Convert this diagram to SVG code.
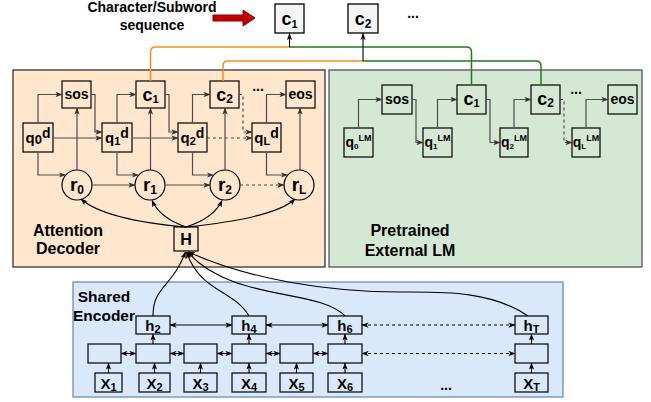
<svg xmlns="http://www.w3.org/2000/svg" width="651" height="402" viewBox="0 0 651 402">
<defs>
<marker id="a" viewBox="0 0 8 6" refX="7.5" refY="3" markerWidth="7" markerHeight="5.5" orient="auto-start-reverse" markerUnits="userSpaceOnUse"><path d="M0,0 L8,3 L0,6 L2,3 z" fill="#000"/></marker>
<marker id="ag" viewBox="0 0 8 6" refX="7.5" refY="3" markerWidth="7" markerHeight="5.5" orient="auto" markerUnits="userSpaceOnUse"><path d="M0,0 L8,3 L0,6 L2,3 z" fill="#333"/></marker>
</defs>
<style>
text{font-family:"Liberation Sans",Arial,sans-serif;font-weight:bold;fill:#000;text-anchor:middle}
.n{fill:none;stroke:#000;stroke-width:1.2}
.e{fill:#dae8fc;stroke:#000;stroke-width:1.2}
.t{fill:#f5f5f5;stroke:#000;stroke-width:1.3}
.g{fill:none;stroke:#4d4d4d;stroke-width:1.2;marker-end:url(#ag)}
.d{stroke-dasharray:3 3}
.k{fill:none;stroke:#000;stroke-width:1.1;marker-end:url(#a)}
.b{fill:none;stroke:#000;stroke-width:1.1;marker-end:url(#a);marker-start:url(#a)}
.o{fill:none;stroke:#ff8c1a;stroke-width:1.5}
.gr{fill:none;stroke:#267a1e;stroke-width:1.5}
</style>

<!-- containers -->
<g id="decoder"><rect x="13" y="70" width="312" height="197" fill="#ffe6cc" stroke="#333" stroke-width="1.3"/>
<text x="68" y="236" font-size="16">Attention</text><text x="68" y="254" font-size="16">Decoder</text></g>
<g id="lm"><rect x="329" y="70" width="313" height="197" fill="#d5e8d4" stroke="#555" stroke-width="1.3"/>
<text x="410" y="236" font-size="16">Pretrained</text><text x="410" y="256" font-size="16">External LM</text></g>
<g id="encoder"><rect x="73" y="282" width="490" height="115" fill="#dae8fc" stroke="#6c8ebf" stroke-width="1.3"/>
<text x="104" y="302" font-size="15.5">Shared</text><text x="104" y="321" font-size="15.5">Encoder</text></g>

<!-- top -->
<g id="title"><text x="152" y="12" font-size="14">Character/Subword</text><text x="152" y="30" font-size="14">sequence</text></g>
<g id="redarrow"><path d="M213,15 H243 V10 L255,18 L243,26 V21 H213 z" fill="#c00000" stroke="#8b0000" stroke-width="1"/></g>
<g id="out_c1"><rect class="t" x="275" y="4" width="29" height="29"/><text x="289.5" y="25" font-size="18">c<tspan font-size="11" dy="3">1</tspan></text></g>
<g id="out_c2"><rect class="t" x="348" y="4" width="30" height="29"/><text x="363" y="25" font-size="18">c<tspan font-size="12" dy="3">2</tspan></text></g>
<g id="out_dots"><text x="413" y="18" font-size="14">...</text></g>

<!-- decoder nodes -->
<g id="d_sos"><rect class="n" x="62" y="81" width="29" height="27"/><text x="76.5" y="99" font-size="14">sos</text></g>
<g id="d_c1"><rect class="n" x="136" y="81" width="29" height="27"/><text x="150.5" y="101" font-size="18">c<tspan font-size="11" dy="2">1</tspan></text></g>
<g id="d_c2"><rect class="n" x="210" y="81" width="29" height="27"/><text x="224.5" y="101" font-size="18">c<tspan font-size="12" dy="2">2</tspan></text></g>
<g id="d_dots"><text x="258" y="91" font-size="14">...</text></g>
<g id="d_eos"><rect class="n" x="286" y="81" width="29" height="27"/><text x="300.5" y="99" font-size="14">eos</text></g>
<g id="d_q0"><rect class="n" x="23" y="123" width="30" height="29"/><text x="38" y="143" font-size="15">q<tspan font-size="13" dy="1">0</tspan><tspan font-size="14" dy="-6">d</tspan></text></g>
<g id="d_q1"><rect class="n" x="102" y="123" width="30" height="29"/><text x="117" y="143" font-size="15">q<tspan font-size="11" dy="2">1</tspan><tspan font-size="14" dy="-7">d</tspan></text></g>
<g id="d_q2"><rect class="n" x="178" y="123" width="29" height="29"/><text x="192.5" y="143" font-size="15">q<tspan font-size="11" dy="2">2</tspan><tspan font-size="14" dy="-7">d</tspan></text></g>
<g id="d_qL"><rect class="n" x="252" y="123" width="29" height="29"/><text x="266.5" y="143" font-size="15">q<tspan font-size="11" dy="2">L</tspan><tspan font-size="14" dy="-7">d</tspan></text></g>
<g id="d_r0"><circle class="n" cx="77" cy="185" r="15"/><text x="77" y="191" font-size="19">r<tspan font-size="12" dy="3">0</tspan></text></g>
<g id="d_r1"><circle class="n" cx="150" cy="185" r="15"/><text x="150" y="191" font-size="19">r<tspan font-size="12" dy="3">1</tspan></text></g>
<g id="d_r2"><circle class="n" cx="225" cy="185" r="15"/><text x="225" y="191" font-size="19">r<tspan font-size="12" dy="3">2</tspan></text></g>
<g id="d_rL"><circle class="n" cx="299" cy="185" r="15"/><text x="299" y="191" font-size="19">r<tspan font-size="12" dy="3">L</tspan></text></g>
<g id="H"><rect class="n" x="174" y="227" width="24" height="24"/><text x="186" y="245" font-size="16">H</text></g>

<!-- LM nodes -->
<g id="l_sos"><rect class="n" x="382" y="85" width="30" height="29"/><text x="397" y="104" font-size="14">sos</text></g>
<g id="l_c1"><rect class="n" x="457" y="85" width="29" height="29"/><text x="471.5" y="105" font-size="18">c<tspan font-size="11" dy="2">1</tspan></text></g>
<g id="l_c2"><rect class="n" x="531" y="85" width="29" height="29"/><text x="545.5" y="105" font-size="18">c<tspan font-size="12" dy="2">2</tspan></text></g>
<g id="l_dots"><text x="576" y="94" font-size="14">...</text></g>
<g id="l_eos"><rect class="n" x="608" y="85" width="29" height="29"/><text x="622.5" y="104" font-size="14">eos</text></g>
<g id="l_q0"><rect class="n" x="344" y="128" width="29" height="29"/><text x="358.5" y="147" font-size="14">q<tspan font-size="8" dy="2">0</tspan><tspan font-size="9" dy="-8">LM</tspan></text></g>
<g id="l_q1"><rect class="n" x="423" y="128" width="29" height="29"/><text x="437.5" y="147" font-size="14">q<tspan font-size="8" dy="2">1</tspan><tspan font-size="9" dy="-8">LM</tspan></text></g>
<g id="l_q2"><rect class="n" x="500" y="128" width="28" height="29"/><text x="514" y="147" font-size="14">q<tspan font-size="8" dy="2">2</tspan><tspan font-size="9" dy="-8">LM</tspan></text></g>
<g id="l_qL"><rect class="n" x="572" y="128" width="28" height="29"/><text x="586" y="147" font-size="14">q<tspan font-size="8" dy="2">L</tspan><tspan font-size="9" dy="-8">LM</tspan></text></g>

<!-- encoder nodes -->
<g id="h2"><rect class="e" x="136" y="316" width="34" height="18"/><text x="153" y="331" font-size="15">h<tspan font-size="11" dy="2">2</tspan></text></g>
<g id="h4"><rect class="e" x="232" y="316" width="34" height="18"/><text x="249" y="331" font-size="15">h<tspan font-size="11" dy="2">4</tspan></text></g>
<g id="h6"><rect class="e" x="328" y="316" width="34" height="18"/><text x="345" y="331" font-size="15">h<tspan font-size="11" dy="2">6</tspan></text></g>
<g id="hT"><rect class="e" x="515" y="316" width="33" height="18"/><text x="531.5" y="331" font-size="15">h<tspan font-size="11" dy="2">T</tspan></text></g>
<g id="s1"><rect class="e" x="88" y="344" width="33" height="19"/></g>
<g id="s2"><rect class="e" x="136" y="344" width="34" height="19"/></g>
<g id="s3"><rect class="e" x="184" y="344" width="33" height="19"/></g>
<g id="s4"><rect class="e" x="232" y="344" width="34" height="19"/></g>
<g id="s5"><rect class="e" x="280" y="344" width="33" height="19"/></g>
<g id="s6"><rect class="e" x="328" y="344" width="34" height="19"/></g>
<g id="sT"><rect class="e" x="515" y="344" width="33" height="19"/></g>
<g id="x1"><rect class="e" x="95" y="373" width="27" height="19"/><text x="108.5" y="389" font-size="15">X<tspan font-size="11" dy="2">1</tspan></text></g>
<g id="x2"><rect class="e" x="139" y="373" width="31" height="19"/><text x="154.5" y="389" font-size="15">X<tspan font-size="11" dy="2">2</tspan></text></g>
<g id="x3"><rect class="e" x="184" y="373" width="33" height="19"/><text x="200.5" y="389" font-size="15">X<tspan font-size="11" dy="2">3</tspan></text></g>
<g id="x4"><rect class="e" x="232" y="373" width="34" height="19"/><text x="249" y="389" font-size="15">X<tspan font-size="11" dy="2">4</tspan></text></g>
<g id="x5"><rect class="e" x="280" y="373" width="33" height="19"/><text x="296.5" y="389" font-size="15">X<tspan font-size="11" dy="2">5</tspan></text></g>
<g id="x6"><rect class="e" x="328" y="373" width="34" height="19"/><text x="345" y="389" font-size="15">X<tspan font-size="11" dy="2">6</tspan></text></g>
<g id="xT"><rect class="e" x="515" y="373" width="33" height="19"/><text x="531.5" y="389" font-size="15">X<tspan font-size="11" dy="2">T</tspan></text></g>
<g id="e_dots"><text x="446" y="390" font-size="14">...</text></g>

<g id="connectors">
<!-- top -->
<path class="o" d="M150.5,81 V52 Q150.5,47 155.5,47 H289"/>
<path class="gr" d="M289,47 H466.5 Q471.5,47 471.5,52 V85"/>
<path class="o" d="M223,81 V66 Q223,61 228,61 H363"/>
<path class="gr" d="M363,61 H536 Q541,61 541,66 V85"/>
<path class="k" d="M289.5,47 V33.5"/>
<path class="k" d="M363,61 V33.5"/>
<!-- decoder -->
<path class="g" d="M38,123 V94.5 H62"/>
<path class="g" d="M117,123 V94.5 H136"/>
<path class="g" d="M192.5,123 V94.5 H210"/>
<path class="g" d="M266.5,123 V94.5 H286"/>
<path class="g" d="M91,94.5 H95 V132 H102"/>
<path class="g" d="M165,94.5 H169 V132 H178"/>
<path class="g d" d="M239,94.5 H243 V132 H252"/>
<path class="g" d="M53,138 H102"/>
<path class="g" d="M132,138 H178"/>
<path class="g d" d="M207,138 H252"/>
<path class="g" d="M38,152 V175 H65.5"/>
<path class="g" d="M117,152 V175 H138.5"/>
<path class="g" d="M192.5,152 V175 H213.5"/>
<path class="g" d="M266.5,152 V175 H287.5"/>
<path class="g" d="M77,170 V108"/>
<path class="g" d="M150.5,170 V108"/>
<path class="g" d="M225,170 V108"/>
<path class="g" d="M300,170 V108"/>
<path class="g" d="M92,185 H135"/>
<path class="g" d="M165,185 H210"/>
<path class="g d" d="M240,185 H284"/>
<!-- H to r -->
<path class="k" d="M186,227 Q105,220 81,199"/>
<path class="k" d="M186,227 Q160,218 152,200.5"/>
<path class="k" d="M186,227 Q214,218 222,200.5"/>
<path class="k" d="M186,227 Q275,218 295,199"/>
<!-- encoder to H -->
<path class="k" d="M153,316 C153,286 172,288 185.5,252"/>
<path class="k" d="M249,316 C234,290 200,292 186.5,252"/>
<path class="k" d="M345,316 C318,288 232,302 187.5,252"/>
<path class="k" d="M528,316 C490,290 440,292 400,292 C330,292 250,280 188.5,252"/>
<!-- LM -->
<path class="g" d="M358.5,128 V99.5 H382"/>
<path class="g" d="M412,99.5 H416 V142.5 H423"/>
<path class="g" d="M437.5,128 V99.5 H457"/>
<path class="g" d="M486,99.5 H490 V142.5 H500"/>
<path class="g" d="M514,128 V99.5 H531"/>
<path class="g d" d="M560,99.5 H564 V142.5 H572"/>
<path class="g" d="M586,128 V99.5 H608"/>
<!-- encoder internal -->
<path class="k" d="M108.5,373 V363"/>
<path class="k" d="M154.5,373 V363"/>
<path class="k" d="M200.5,373 V363"/>
<path class="k" d="M249,373 V363"/>
<path class="k" d="M296.5,373 V363"/>
<path class="k" d="M345,373 V363"/>
<path class="k" d="M531.5,373 V363"/>
<path class="k" d="M153,344 V334"/>
<path class="k" d="M249,344 V334"/>
<path class="k" d="M345,344 V334"/>
<path class="k" d="M531.5,344 V334"/>
<path class="b" d="M121,353.5 H136"/>
<path class="b" d="M170,353.5 H184"/>
<path class="b" d="M217,353.5 H232"/>
<path class="b" d="M266,353.5 H280"/>
<path class="b" d="M313,353.5 H328"/>
<path class="b d" d="M362,353.5 H515"/>
<path class="b" d="M170,325 H232"/>
<path class="b" d="M266,325 H328"/>
<path class="b d" d="M362,325 H515"/>
</g>
</svg>
